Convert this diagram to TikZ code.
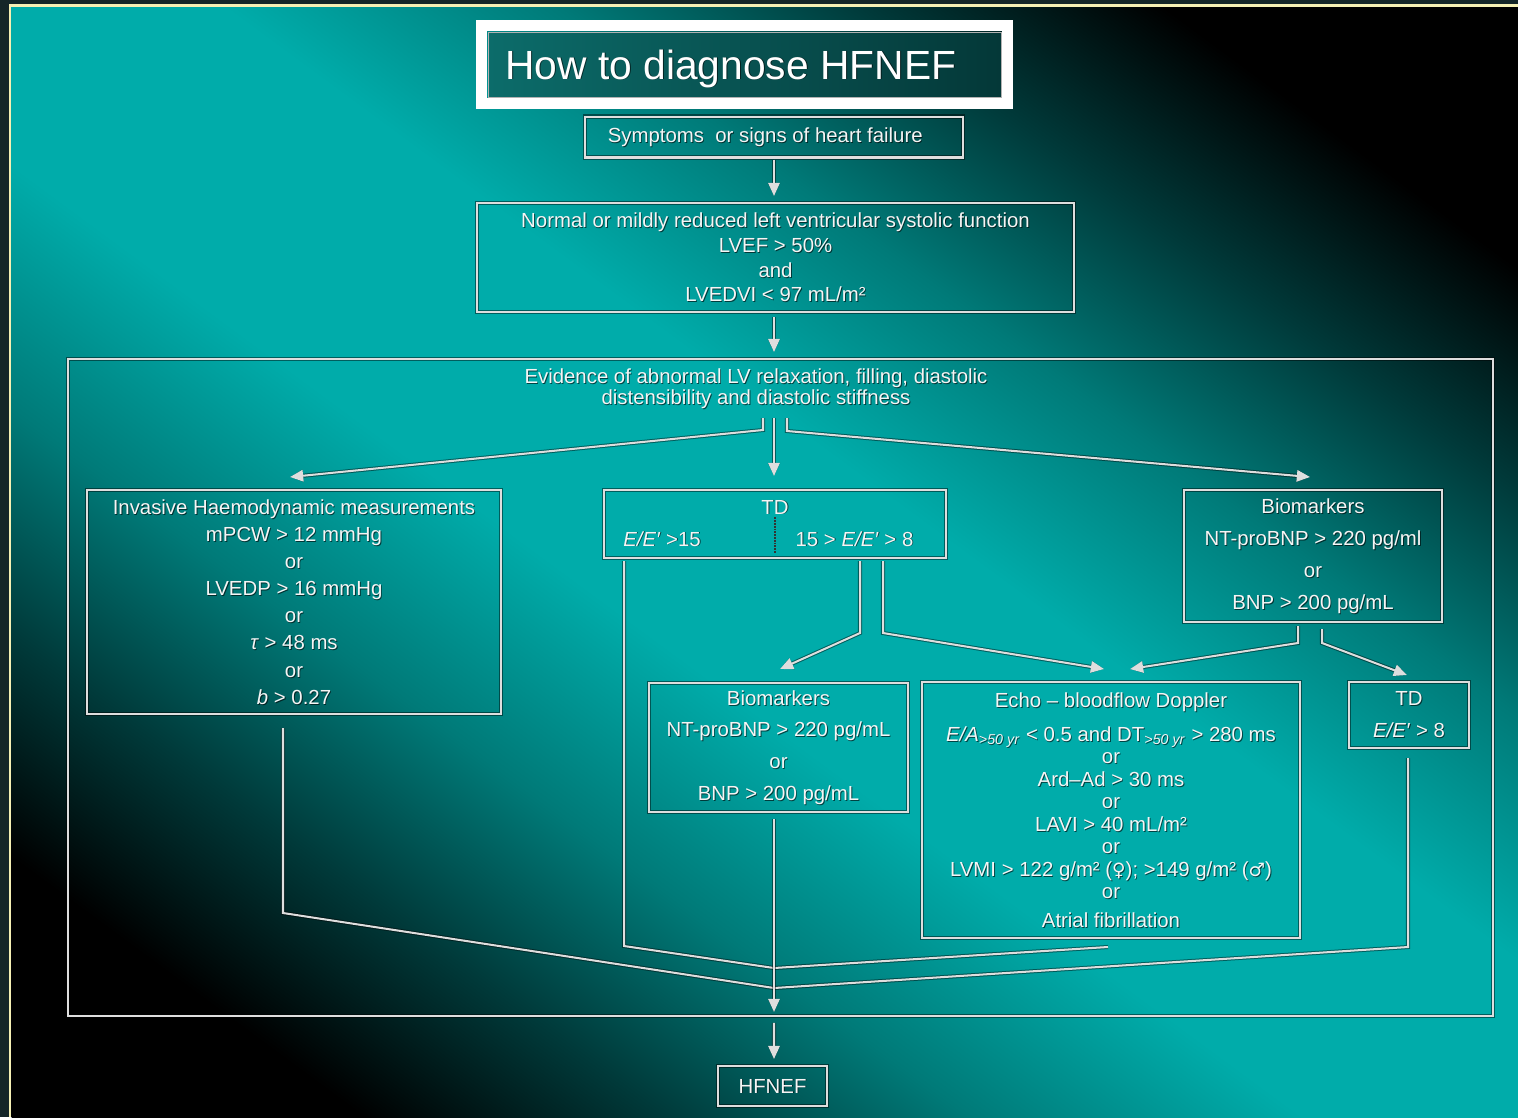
\documentclass[tikz,border=0pt]{standalone}
\usepackage{fontspec}
\setmainfont{Liberation Sans}
\newfontfamily\symfont{DejaVu Sans}
\usetikzlibrary{arrows.meta,calc}

\definecolor{outerc}{RGB}{20,38,40}
\definecolor{yell}{RGB}{245,240,180}
\definecolor{tealhi}{RGB}{0,172,170}
\definecolor{tealmd}{RGB}{0,122,120}
\definecolor{tealdk}{RGB}{0,58,58}
\definecolor{linec}{RGB}{222,222,222}
\definecolor{txtc}{RGB}{245,245,245}
\definecolor{ttlL}{RGB}{12,108,106}
\definecolor{ttlR}{RGB}{4,56,56}

% diagonal band: black corners, bright teal along the main diagonal
% (the part between 25bp and 75bp is what covers the path)
\pgfdeclarehorizontalshading{bandbg}{100bp}{%
  color(0bp)=(black); color(31bp)=(black); color(36bp)=(tealdk);
  color(41bp)=(tealmd); color(46.5bp)=(tealhi); color(53.5bp)=(tealhi);
  color(59bp)=(tealmd); color(64bp)=(tealdk); color(69bp)=(black);
  color(100bp)=(black)}

\newcommand\fs[2]{\fontsize{#1}{#2}\selectfont}
\newcommand\gsym[1]{{\symfont\fontsize{10.5}{12}\selectfont #1}}

\tikzset{
  ln/.style={draw=linec, line width=1.15pt,
    preaction={draw=black, draw opacity=0.45, line width=2.3pt}},
  arr/.style={ln, -{Triangle[length=7.5pt,width=6.5pt]}},
  bx/.style={rectangle, inner sep=0pt, align=center, text=txtc},
  txt/.style={text=txtc, inner sep=0pt, align=center, font=\fs{11.6}{14}},
  shd/.style={draw=none, text=black, text opacity=0.6},
}

% a node whose text carries a dark drop shadow; #1 options, #2 name,
% #3 position, #4 text, #5 drawing options of the node itself
\newcommand\snode[5]{%
  \node[#1, shd] at ($#3+(0.9,0.9)$) {#4};
  \node[#1, #5] (#2) at #3 {#4};}

\begin{document}
\begin{tikzpicture}[x=0.02cm,y=-0.02cm]
\useasboundingbox (0,0) rectangle (1518,1117);

% background
\fill[outerc] (0,0) rectangle (1518,1117);
\begin{scope}
  \clip (11.5,6.5) rectangle (1518,1117);
  \shade[shading=bandbg, transform canvas={rotate around={53.6:(759,558.5)}}]
    (-141,-401.5) rectangle (1659,1518.5);
\end{scope}
\draw[yell, line width=1.7pt] (10,1117) -- (10,5) -- (1518,5);

% title
\node[rectangle, minimum width=10.26cm, minimum height=1.3cm, inner sep=0pt,
      left color=ttlL, right color=ttlR, draw=gray!60, line width=0.5pt]
      (title) at (744.5,64.5) {};
\draw[white, line width=6.3pt]
  ($(title.south west)+(-6,6)$) rectangle ($(title.north east)+(6,-6)$);
\snode{anchor=base west, inner sep=0pt, text=white, font=\fs{23.2}{28}}
  {ttl}{(505,79)}{How to diagnose HFNEF}{}

% boxes
\snode{bx, minimum width=7.56cm, minimum height=0.82cm, font=\fs{11.6}{14}}
  {sym}{(774,137)}{Symptoms\ \ or signs of heart failure\hspace*{10pt}}{ln}

\snode{bx, minimum width=11.94cm, minimum height=2.18cm, font=\fs{11.6}{14.05}}
  {norm}{(775.5,257.5)}
  {Normal or mildly reduced left ventricular systolic function\\
   LVEF > 50\%\\ and\\ LVEDVI < 97 mL/m²}{ln}

\node[bx, ln, minimum width=28.5cm, minimum height=13.14cm] (big) at (780.5,687.5) {};
\snode{txt, font=\fs{11.6}{12}}{ev}{(756,389)}
  {Evidence of abnormal LV relaxation, filling, diastolic\\
   distensibility and diastolic stiffness}{}

\snode{bx, minimum width=8.28cm, minimum height=4.48cm, font=\fs{11.6}{15.44}}
  {inv}{(294,602)}
  {Invasive Haemodynamic measurements\\ mPCW > 12 mmHg\\ or\\ LVEDP > 16 mmHg\\
   or\\ \textit{τ} > 48 ms\\ or\\ \textit{b} > 0.27}{ln}

\node[bx, ln, minimum width=6.84cm, minimum height=1.36cm] (td) at (775,524) {};
\snode{txt, anchor=base}{tdh}{(775,514)}{TD}{}
\snode{txt, anchor=base}{tdl}{(662,546)}{\textit{E/E′} >15}{}
\snode{txt, anchor=base}{tdr}{(854.5,546)}{15 > \textit{E/E′} > 8}{}
\draw[black!80, line width=1.3pt, dash pattern=on 1pt off 0.6pt]
  (tdh.south) ++(0,3) -- ++(0,36);

\snode{bx, minimum width=5.16cm, minimum height=2.64cm, font=\fs{11.6}{18.2}}
  {bio1}{(1313,556)}
  {Biomarkers\\ NT-proBNP > 220 pg/ml\\ or\\ BNP > 200 pg/mL}{ln}

\snode{bx, minimum width=5.18cm, minimum height=2.58cm, font=\fs{11.6}{18}}
  {bio2}{(778.5,747.5)}
  {Biomarkers\\ NT-proBNP > 220 pg/mL\\ or\\ BNP > 200 pg/mL}{ln}

\snode{bx, minimum width=7.56cm, minimum height=5.12cm, font=\fs{11.6}{12.8}}
  {echo}{(1111,810)}
  {Echo \textendash{} bloodflow Doppler\\[6.5pt]
   \textit{E/A}\textsubscript{\textit{>50 yr}} < 0.5 and DT\textsubscript{\textit{>50 yr}} > 280 ms\\
   or\\ Ard\textendash Ad > 30 ms\\ or\\ LAVI > 40 mL/m²\\ or\\
   LVMI > 122 g/m² (\gsym{♀}); >149 g/m² (\gsym{♂})\\ or\\[3.5pt] Atrial fibrillation}{ln}

\snode{bx, minimum width=2.4cm, minimum height=1.32cm, font=\fs{11.6}{18.2}}
  {td2}{(1409,715)}{TD\\ \textit{E/E′} > 8}{ln}

\snode{bx, minimum width=2.18cm, minimum height=0.8cm, font=\fs{11.6}{14}}
  {hf}{(772.5,1086)}{HFNEF}{ln}

% connectors, top part
\draw[arr] ($(sym.south)+(0,1)$) -- ($(norm.north)+(-1.5,-6)$);
\draw[arr] ($(norm.south)+(-1.5,4)$) -- ($(big.north)+(-6.5,-6)$);

\draw[arr] ($(ev.center)+(7,29)$) -- ++(0,12) -- ($(inv.north)+(-4,-12)$);
\draw[arr] ($(ev.center)+(18,29)$) -- ($(td.north)+(-1,-13)$);
\draw[arr] ($(ev.center)+(31,29)$) -- ++(0,13) -- ($(bio1.north)+(-3,-12)$);

\draw[arr] ($(td.south)+(85,2)$) -- ++(0,72) -- ($(bio2.north)+(1.5,-13)$);
\draw[arr] ($(td.south)+(108,2)$) -- ++(0,72) -- ($(echo.north)+(-7,-12)$);
\draw[arr] ($(bio1.south)+(-15,3)$) -- ++(0,17) -- ($(echo.north)+(19,-12)$);
\draw[arr] ($(bio1.south)+(9,6)$) -- ++(0,14) -- ($(td2.north)+(-2,-6)$);

% connectors, merging into the final arrow
\coordinate (j1) at ($(bio2.south)+(-4.5,155)$);
\coordinate (j2) at ($(bio2.south)+(-4.5,175)$);
\draw[ln] ($(td.south west)+(21,2)$) -- ++(0,385) -- (j1);
\draw[ln] ($(echo.south)+(-3,8)$) -- (j1);
\draw[ln] ($(inv.south)+(-11,13)$) -- ++(0,185) -- (j2);
\draw[ln] ($(td2.south)+(-1,9)$) -- ++(0,189) -- (j2);
\draw[arr] ($(bio2.south)+(-4.5,6)$) -- ($(big.south)+(-6.5,-5)$);
\draw[arr] ($(big.south)+(-6.5,6)$) -- ($(hf.north)+(1.5,-6)$);
\end{tikzpicture}
\end{document}
